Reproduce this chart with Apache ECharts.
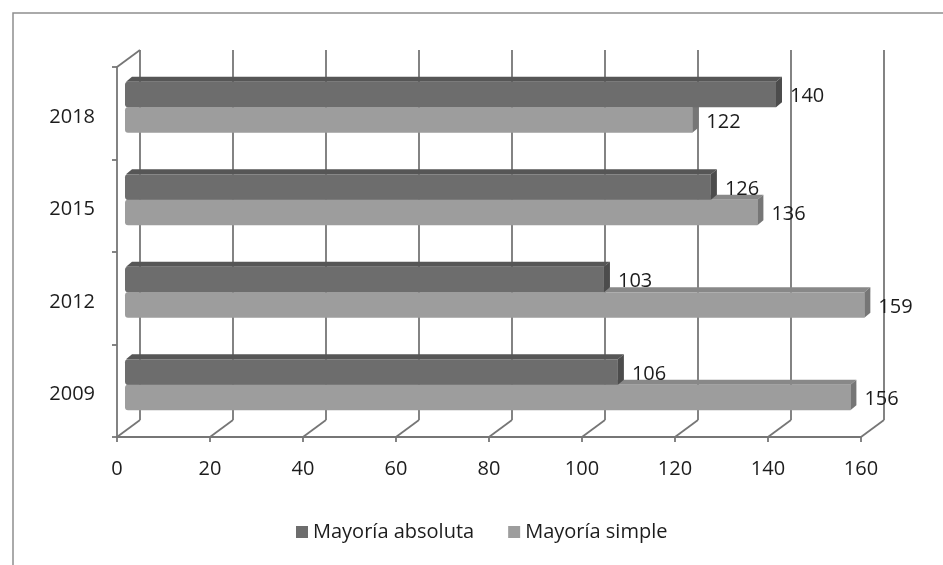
<!DOCTYPE html>
<html>
<head>
<meta charset="utf-8">
<script src="https://cdn.jsdelivr.net/npm/echarts@6/dist/echarts.min.js"></script>
<style>
  html, body { margin: 0; padding: 0; background: #ffffff; }
  #chart { width: 943px; height: 565px; }
</style>
</head>
<body>
<div id="chart"></div>
<script>
// Elecciones: escaños por mayoría absoluta y mayoría simple
const years = ['2009', '2012', '2015', '2018'];
const absoluta = [106, 103, 126, 140];
const simple = [156, 159, 136, 122];
const xTicks = [0, 20, 40, 60, 80, 100, 120, 140, 160];

const FONT = '"Open Sans", "Noto Sans", sans-serif';
const TEXT = '#1c1c1c';
const LINE = '#767676';
const DEPTH = [23, -17];      // back wall offset of the 3D box
const BAR_DEPTH = [6, -5];    // thickness of each bar

const styles = {
  absoluta: { front: '#6d6d6d', top: '#565656', side: '#4c4c4c' },
  simple: { front: '#9d9d9d', top: '#888888', side: '#767676' }
};

function barRenderer(slot, pal) {
  return function (params, api) {
    const v = api.value(0);
    const cat = api.value(1);
    const start = api.coord([0, cat]);
    const end = api.coord([v, cat]);
    const band = api.size([0, 1])[1];
    const h = band * 0.276;
    const yTop = slot === 0 ? start[1] - h : start[1];
    const x0 = start[0], x1 = end[0];
    const dx = BAR_DEPTH[0], dy = BAR_DEPTH[1];
    return {
      type: 'group',
      children: [
        { type: 'polygon', shape: { points: [[x0 + 1, yTop], [x1, yTop], [x1 + dx, yTop + dy], [x0 + dx + 1, yTop + dy]] },
          style: { fill: pal.top } },
        { type: 'rect', shape: { x: x0, y: yTop, width: x1 - x0, height: h, r: [3, 0, 0, 3] },
          style: { fill: pal.front } },
        { type: 'polygon', shape: { points: [[x1, yTop], [x1 + dx, yTop + dy], [x1 + dx, yTop + h + dy], [x1, yTop + h]] },
          style: { fill: pal.side } },
        { type: 'text', x: x1 + dx + 8, y: yTop + h / 2 + 2,
          style: { text: String(v), font: '20px ' + FONT, fill: TEXT, verticalAlign: 'middle', align: 'left' } }
      ]
    };
  };
}

// floor lines joining the front axis ticks with the back wall
function floorRenderer(params, api) {
  const cs = params.coordSys;
  const idx = api.value(1);
  if (idx < 0) {
    return { type: 'line', shape: { x1: cs.x, y1: cs.y, x2: cs.x + DEPTH[0], y2: cs.y + DEPTH[1] },
      style: { stroke: LINE, lineWidth: 1.8 } };
  }
  const x = api.coord([api.value(0), 0])[0];
  const yb = cs.y + cs.height;
  return { type: 'line', shape: { x1: x, y1: yb, x2: x + DEPTH[0], y2: yb + DEPTH[1] },
    style: { stroke: LINE, lineWidth: 1.8 } };
}

const front = { left: 117, top: 67, width: 744, height: 370 };
const back = { left: front.left + DEPTH[0], top: front.top + DEPTH[1], width: 744, height: 370 };
const bars = { left: 125, top: 61, width: 744, height: 370 };
const yLabels = { left: 117, top: 71, width: 744, height: 370 };

const chart = echarts.init(document.getElementById('chart'), null, { renderer: 'canvas' });

const valueAxis = (gridIndex, extra) => Object.assign({
  type: 'value', gridIndex, min: xTicks[0], max: xTicks[xTicks.length - 1],
  interval: xTicks[1] - xTicks[0],
  axisLine: { show: false }, axisTick: { show: false }, axisLabel: { show: false }, splitLine: { show: false }
}, extra);

const catAxis = (gridIndex, extra) => Object.assign({
  type: 'category', gridIndex, data: years,
  axisLine: { show: false }, axisTick: { show: false }, axisLabel: { show: false }, splitLine: { show: false }
}, extra);

chart.setOption({
  backgroundColor: '#ffffff',
  animation: false,
  graphic: [
    { type: 'rect', shape: { x: 13, y: 13, width: 1000, height: 1000 },
      style: { fill: 'none', stroke: '#8e8e8e', lineWidth: 1.5 }, silent: true }
  ],
  grid: [
    Object.assign({}, front),
    Object.assign({}, back),
    Object.assign({}, bars),
    Object.assign({}, yLabels)
  ],
  xAxis: [
    valueAxis(0, {
      axisLine: { show: true, lineStyle: { color: LINE, width: 1.8 } },
      axisTick: { show: true, length: 5, lineStyle: { color: LINE, width: 1.8 } },
      axisLabel: { show: true, margin: 22, color: TEXT, fontSize: 20, fontFamily: FONT }
    }),
    valueAxis(1, { splitLine: { show: true, lineStyle: { color: LINE, width: 1.8 } } }),
    valueAxis(2),
    valueAxis(3)
  ],
  yAxis: [
    catAxis(0, {
      axisLine: { show: true, lineStyle: { color: LINE, width: 1.8 } },
      axisTick: { show: true, length: 5, lineStyle: { color: LINE, width: 1.8 } }
    }),
    catAxis(1),
    catAxis(2),
    catAxis(3, {
      axisLabel: { show: true, margin: 22, color: TEXT, fontSize: 20, fontFamily: FONT }
    })
  ],
  legend: {
    left: 291, top: 517,
    icon: 'rect', itemWidth: 12, itemHeight: 12, itemGap: 34,
    textStyle: { fontSize: 20, fontFamily: FONT, color: TEXT },
    data: ['Mayoría absoluta', 'Mayoría simple']
  },
  series: [
    {
      type: 'custom', name: 'floor', xAxisIndex: 0, yAxisIndex: 0, silent: true, z: 1,
      renderItem: floorRenderer, encode: { x: 0, y: 1 },
      data: [[0, -1]].concat(xTicks.map((t, i) => [t, i]))
    },
    {
      type: 'custom', name: 'Mayoría simple', xAxisIndex: 2, yAxisIndex: 2, z: 3,
      itemStyle: { color: styles.simple.front },
      renderItem: barRenderer(1, styles.simple), encode: { x: 0, y: 1 },
      data: simple.map((v, i) => [v, i])
    },
    {
      type: 'custom', name: 'Mayoría absoluta', xAxisIndex: 2, yAxisIndex: 2, z: 4,
      itemStyle: { color: styles.absoluta.front },
      renderItem: barRenderer(0, styles.absoluta), encode: { x: 0, y: 1 },
      data: absoluta.map((v, i) => [v, i])
    }
  ]
});
</script>
</body>
</html>
